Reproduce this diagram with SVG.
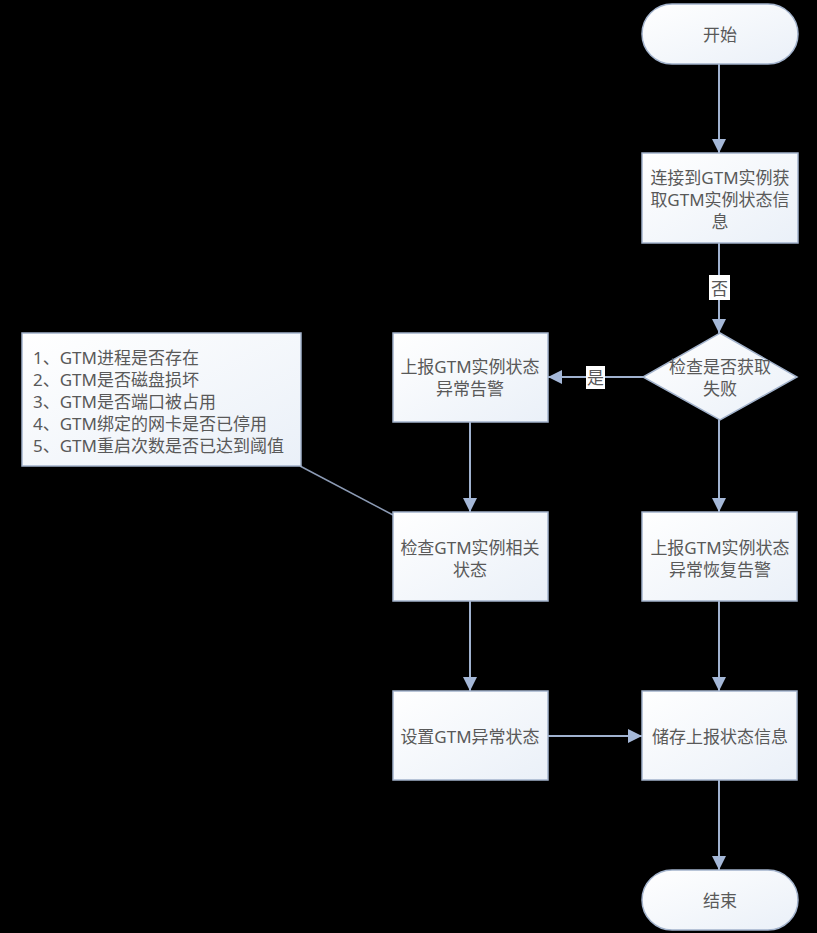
<svg xmlns="http://www.w3.org/2000/svg" width="817" height="933" viewBox="0 0 817 933">
<defs>
<linearGradient id="g" x1="0" y1="0" x2="1" y2="1">
<stop offset="0" stop-color="#ffffff"/>
<stop offset="1" stop-color="#eaf0f8"/>
</linearGradient>
<marker id="ah" markerUnits="userSpaceOnUse" markerWidth="14" markerHeight="14" viewBox="0 0 14 14" refX="14" refY="7" orient="auto">
<path d="M0,0 L14,7 L0,14 Z" fill="#a5b8d8"/>
</marker>
<style>
.n{fill:url(#g);stroke:#a3b3cc;stroke-width:1.5}
.t{font-family:"Noto Sans","Noto Sans CJK SC",sans-serif;font-size:17px;fill:#595959;text-anchor:middle;dominant-baseline:central}
.tl{font-family:"Noto Sans","Noto Sans CJK SC",sans-serif;font-size:17px;fill:#595959;dominant-baseline:central}
.c{stroke:#a0b2cf;stroke-width:2;fill:none}
.lb{fill:#ffffff}
</style>
</defs>
<rect width="817" height="933" fill="#000000"/>
<g id="connectors">
<line class="c" x1="719" y1="64" x2="719" y2="153" marker-end="url(#ah)"/>
<line class="c" x1="719" y1="243" x2="719" y2="333" marker-end="url(#ah)"/>
<line class="c" x1="643" y1="377" x2="548" y2="377" marker-end="url(#ah)"/>
<line class="c" x1="719" y1="420" x2="719" y2="512" marker-end="url(#ah)"/>
<line class="c" x1="470" y1="422" x2="470" y2="512" marker-end="url(#ah)"/>
<line class="c" x1="470" y1="601" x2="470" y2="691" marker-end="url(#ah)"/>
<line class="c" x1="719" y1="601" x2="719" y2="691" marker-end="url(#ah)"/>
<line class="c" x1="548" y1="736" x2="642" y2="736" marker-end="url(#ah)"/>
<line class="c" x1="719" y1="780" x2="719" y2="870" marker-end="url(#ah)"/>
<line x1="300" y1="466" x2="393" y2="515" stroke="#8c9bb5" stroke-width="1.5"/>
<rect class="lb" x="709" y="275" width="21" height="25"/>
<text class="t" x="719.5" y="288">否</text>
<rect class="lb" x="586" y="366" width="19" height="23"/>
<text class="t" x="595.5" y="377">是</text>
</g>
<g id="start">
<rect class="n" x="642" y="4" width="156" height="60" rx="30" ry="30"/>
<text class="t" x="720" y="34">开始</text>
</g>
<g id="connect">
<rect class="n" x="642" y="153" width="156" height="90"/>
<text class="t" x="720" y="177">连接到GTM实例获</text>
<text class="t" x="720" y="199">取GTM实例状态信</text>
<text class="t" x="720" y="221">息</text>
</g>
<g id="check-fail">
<polygon class="n" points="720,333 797,377 720,420 643,377"/>
<text class="t" x="720" y="366">检查是否获取</text>
<text class="t" x="720" y="388">失败</text>
</g>
<g id="report-abnormal">
<rect class="n" x="393" y="333" width="155" height="89"/>
<text class="t" x="470" y="366">上报GTM实例状态</text>
<text class="t" x="470" y="388">异常告警</text>
</g>
<g id="note">
<rect class="n" x="22" y="333" width="279" height="133"/>
<text class="tl" x="33" y="357">1、GTM进程是否存在</text>
<text class="tl" x="33" y="379">2、GTM是否磁盘损坏</text>
<text class="tl" x="33" y="401">3、GTM是否端口被占用</text>
<text class="tl" x="33" y="423">4、GTM绑定的网卡是否已停用</text>
<text class="tl" x="33" y="445">5、GTM重启次数是否已达到阈值</text>
</g>
<g id="check-status">
<rect class="n" x="393" y="512" width="155" height="89"/>
<text class="t" x="470" y="547">检查GTM实例相关</text>
<text class="t" x="470" y="569">状态</text>
</g>
<g id="report-recover">
<rect class="n" x="642" y="512" width="155" height="89"/>
<text class="t" x="720" y="547">上报GTM实例状态</text>
<text class="t" x="720" y="569">异常恢复告警</text>
</g>
<g id="set-abnormal">
<rect class="n" x="393" y="691" width="155" height="89"/>
<text class="t" x="470" y="736">设置GTM异常状态</text>
</g>
<g id="store">
<rect class="n" x="642" y="691" width="155" height="89"/>
<text class="t" x="720" y="736">储存上报状态信息</text>
</g>
<g id="end">
<rect class="n" x="642" y="870" width="156" height="60" rx="30" ry="30"/>
<text class="t" x="720" y="900">结束</text>
</g>
</svg>
